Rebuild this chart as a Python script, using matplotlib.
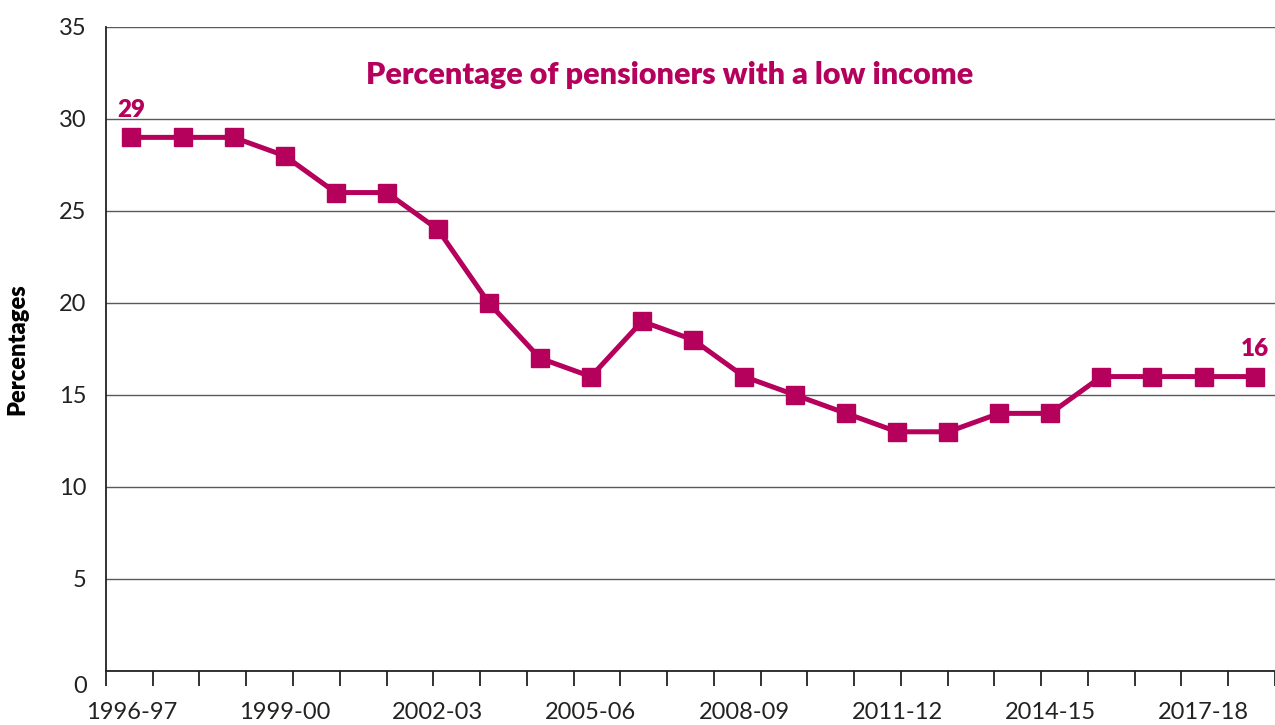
import numpy as np
import matplotlib
matplotlib.use("Agg")
import matplotlib.pyplot as plt
import matplotlib.transforms as mtransforms

#financial years and share of pensioners on a low income (%)
years = ["1996-97", "1997-98", "1998-99", "1999-00", "2000-01", "2001-02",
         "2002-03", "2003-04", "2004-05", "2005-06", "2006-07", "2007-08",
         "2008-09", "2009-10", "2010-11", "2011-12", "2012-13", "2013-14",
         "2014-15", "2015-16", "2016-17", "2017-18", "2018-19"]
pct = [29, 29, 29, 28, 26, 26, 24, 20, 17, 16, 19, 18,
       16, 15, 14, 13, 13, 14, 14, 16, 16, 16, 16]
yticks = [0, 5, 10, 15, 20, 25, 30, 35]

pink = "#B5005C"
plt.rcParams["font.family"] = ["Lato", "DejaVu Sans"]

fig = plt.figure(figsize=(12.75, 7.25), dpi=100)
ax = fig.add_axes([0.0831, 0.0745, 0.9169, 0.8883])

x = np.arange(len(years))
ax.plot(x, pct, color=pink, lw=3.6, marker="s", ms=12.5, mec=pink, mfc=pink, zorder=3)

#label the first and last values
for i in [0, len(pct) - 1]:
    ax.annotate(str(pct[i]), (x[i], pct[i]), xytext=(0, 12), textcoords="offset points",
                ha="center", va="bottom", color=pink, fontsize=17.5, fontweight="heavy")

ax.set_ylim(0, 35)
xlo, xhi = -0.5, 22.37
ax.set_xlim(xlo, xhi)
ax.set_yticks(yticks)
ax.set_yticklabels([str(v) for v in yticks], fontsize=17, color="#222222")
ax.tick_params(axis="y", length=0, pad=14)
ax.yaxis.grid(True, color="#5a5a5a", lw=1)
ax.set_axisbelow(True)

#shift the 0 label down a little
lab0 = ax.get_yticklabels()[0]
lab0.set_transform(lab0.get_transform() + mtransforms.ScaledTranslation(0, -14 / 100, fig.dpi_scale_trans))

#labels every third year, tick marks spaced evenly along the axis
ax.set_xticks(x[::3])
ax.set_xticklabels(years[::3], fontsize=17, color="#222222")
ax.tick_params(axis="x", which="major", length=0, pad=22)
ax.set_xticks(np.linspace(xlo, xlo + 25 * 0.916, 26), minor=True)
ax.tick_params(axis="x", which="minor", length=11, width=1.3, color="#222222", direction="out")

for s in ["top", "right"]:
    ax.spines[s].set_visible(False)
for s in ["left", "bottom"]:
    ax.spines[s].set_color("#222222")
    ax.spines[s].set_linewidth(1.3)

ax.set_ylabel("Percentages", fontsize=17, fontweight="heavy", labelpad=22)
ax.text(0.4825, 0.925, "Percentage of pensioners with a low income", transform=ax.transAxes,
        ha="center", va="center", color=pink, fontsize=22, fontweight="heavy")

fig.savefig("out.png", dpi=100)
